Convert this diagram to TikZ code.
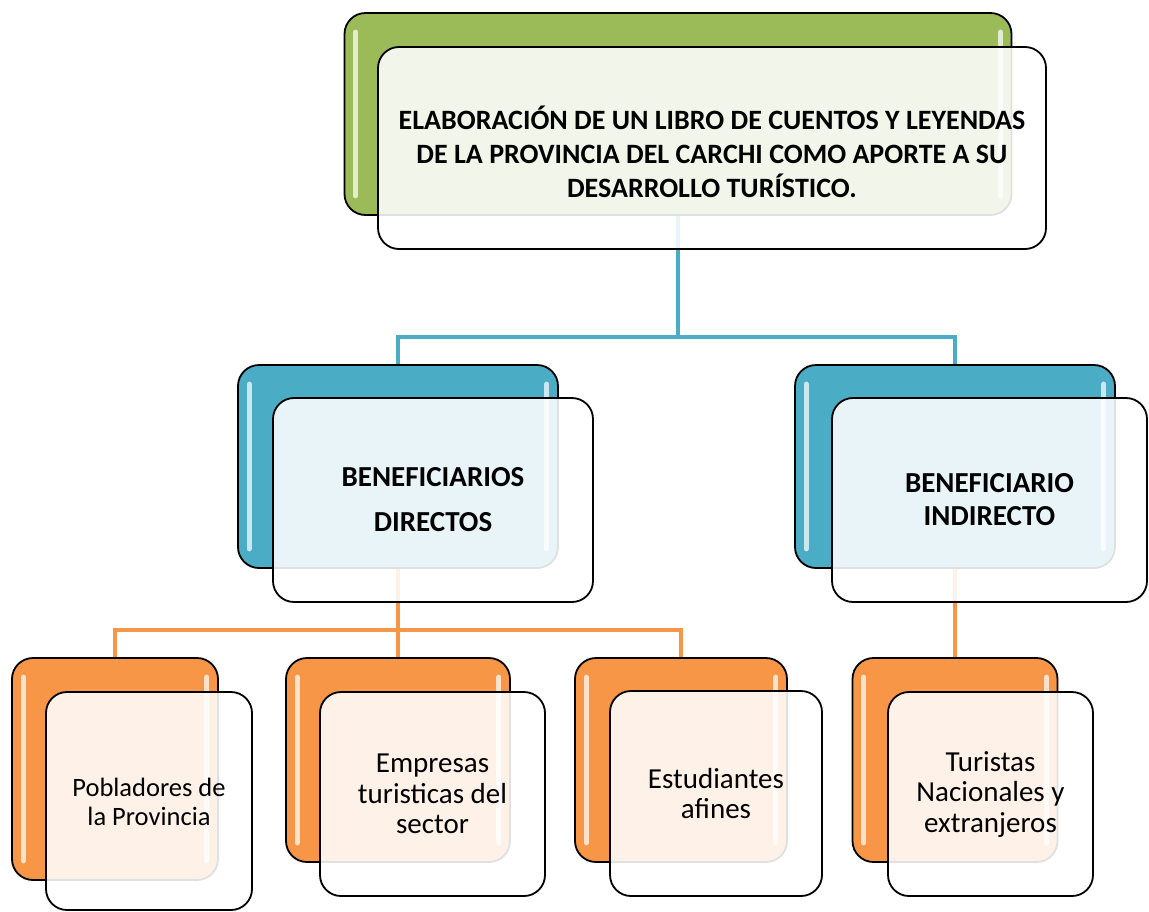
\documentclass[tikz,border=0pt]{standalone}
\usepackage{fontspec}
\setmainfont{Carlito}
\definecolor{cgreen}{HTML}{9BBB59}
\definecolor{cblue}{HTML}{4BACC6}
\definecolor{corange}{HTML}{F79646}
\tikzset{
  back/.style={draw=black, line width=1.8pt, rounded corners=21pt, fill=#1, inner sep=0pt},
  front/.style={draw=black, line width=1.8pt, rounded corners=21pt, fill=white, fill opacity=0.88, text opacity=1, inner sep=0pt, align=center},
  hl/.style={line width=5pt, line cap=round, draw=white, draw opacity=0.72},
  bline/.style={draw=cblue, line width=4.8pt},
  oline/.style={draw=corange, line width=4.8pt},
  ttext/.style={font=\fontsize{28}{34}\bfseries\selectfont},
  mtext/.style={font=\fontsize{29}{33}\bfseries\selectfont},
  ltext/.style={font=\fontsize{29}{30.5}\selectfont},
}
\newcommand\gloss[1]{%
  \draw[hl] ([xshift=12pt,yshift=-20pt]#1.north west) -- ([xshift=12pt,yshift=20pt]#1.south west);
  \draw[hl] ([xshift=-12pt,yshift=-20pt]#1.north east) -- ([xshift=-12pt,yshift=20pt]#1.south east);
}
\begin{document}
\begin{tikzpicture}[x=1pt,y=-1pt]
\useasboundingbox (0,0) rectangle (1149,911);

\coordinate (busA) at (0,337);
\coordinate (busB) at (0,630);

% connectors (behind)
\path (678,114) coordinate (topC) (398,466.5) coordinate (dirC) (955,466.5) coordinate (indC)
      (115,769) coordinate (pobC) (398,760) coordinate (empC) (681,760) coordinate (estC) (955,760) coordinate (turC);
\draw[bline] (topC) -- (topC |- busA) -| (dirC);
\draw[bline] (topC |- busA) -| (indC);
\draw[oline] (dirC) -- (dirC |- busB) -| (pobC);
\draw[oline] (dirC |- busB) -| (estC);
\draw[oline] (dirC |- busB) -- (empC);
\draw[oline] (indC) -- (turC);

% top
\node[back=cgreen, minimum width=667pt, minimum height=202pt] (topB) at (topC) {};
\gloss{topB}
\node[front, minimum width=668pt, minimum height=202pt] (topF) at (712,148) {};
\node[ttext, align=center] (topT) at (712,152) {ELABORACIÓN DE UN LIBRO DE CUENTOS Y LEYENDAS\\DE LA PROVINCIA DEL CARCHI COMO APORTE A SU\\DESARROLLO TURÍSTICO.};

% beneficiarios directos
\node[back=cblue, minimum width=320pt, minimum height=203pt] (dirB) at (dirC) {};
\gloss{dirB}
\node[front, mtext, minimum width=320pt, minimum height=204pt] (dirF) at (433,500) {BENEFICIARIOS\\[12pt]DIRECTOS};

% beneficiario indirecto
\node[back=cblue, minimum width=320pt, minimum height=203pt] (indB) at (indC) {};
\gloss{indB}
\node[front, mtext, minimum width=315pt, minimum height=204pt] (indF) at (989.5,500) {BENEFICIARIO\\INDIRECTO};

% pobladores
\node[back=corange, minimum width=206pt, minimum height=222pt] (pobB) at (pobC) {};
\gloss{pobB}
\node[front, minimum width=206pt, minimum height=218pt] (pobF) at (149,801) {};
\node[font=\fontsize{26.5}{29}\selectfont, align=center] (pobT) at (149,802) {Pobladores de\\la Provincia};

% empresas
\node[back=corange, minimum width=224pt, minimum height=204pt] (empB) at (empC) {};
\gloss{empB}
\node[front, ltext, minimum width=225pt, minimum height=204pt] (empF) at (432.5,794) {Empresas\\turisticas del\\sector};

% estudiantes
\node[back=corange, minimum width=212pt, minimum height=204pt] (estB) at (estC) {};
\gloss{estB}
\node[front, ltext, minimum width=212pt, minimum height=205pt] (estF) at (716,793.5) {Estudiantes\\afines};

% turistas
\node[back=corange, minimum width=205pt, minimum height=204pt] (turB) at (turC) {};
\gloss{turB}
\node[front, ltext, minimum width=205pt, minimum height=204pt] (turF) at (990.5,794) {Turistas\\Nacionales y\\extranjeros};
\end{tikzpicture}
\end{document}
